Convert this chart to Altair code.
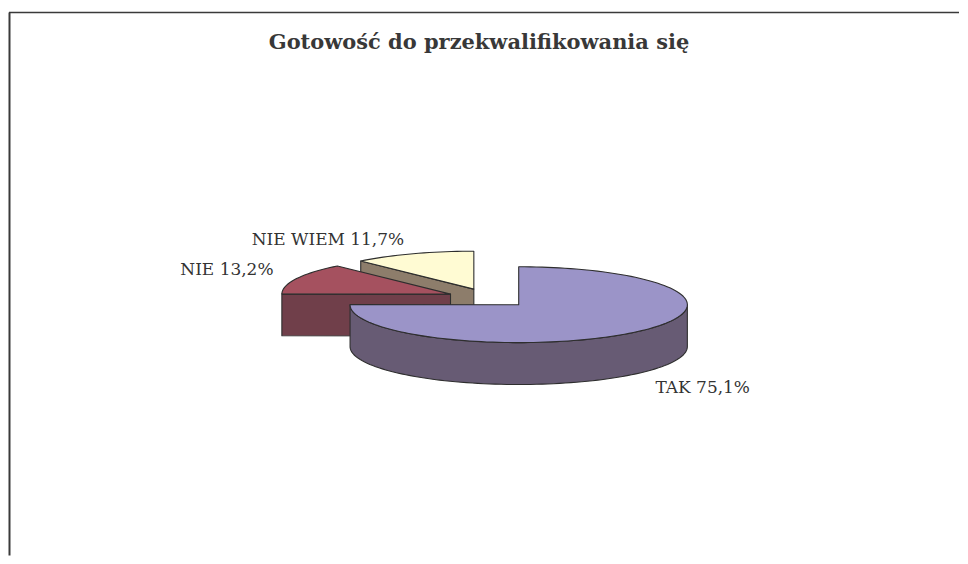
import math
import altair as alt
import pandas as pd

# ---- data ----
title_text = "Gotowość do przekwalifikowania się"
categories = ["TAK", "NIE", "NIE WIEM"]
values = [75.1, 13.2, 11.7]
top_colors = ["#9b94c8", "#a5515f", "#fffbd3"]
side_colors = ["#675b74", "#703f4a", "#8d7d6b"]

# ---- 3D pie styling (projection units: 1 = horizontal radius) ----
RX = 169.0               # px per unit (projection scale)
TILT = 38.0 / 169.0      # vertical squash of the ellipse
DEPTH = 42.0 / 169.0     # thickness of the pie
EXPLODE = 0.25
TRANSLATE = [481, 290]
KX, KY = 1.15, 1.25      # label distance factors


def pt(cx, cy, deg, z=0.0):
    t = math.radians(deg)
    return [cx + math.sin(t), cy + math.cos(t) * TILT - z]


def arc(cx, cy, a, b, z=0.0, step=2.0):
    n = max(2, int(math.ceil((b - a) / step)))
    return [pt(cx, cy, a + (b - a) * k / n, z) for k in range(n + 1)]


total = sum(values)
slices = []
start = 0.0
for cat, v, tc, sc in zip(categories, values, top_colors, side_colors):
    span = v / total * 360.0
    a, b = start, start + span
    m = math.radians((a + b) / 2)
    cx = EXPLODE * math.sin(m)
    cy = EXPLODE * math.cos(m) * TILT
    slices.append(dict(cat=cat, v=v, a=a, b=b, m=m, cx=cx, cy=cy, tc=tc, sc=sc))
    start = b

features = []


def add(ring, fill, cat):
    ring = ring + [ring[0]]
    features.append({
        "type": "Feature",
        "geometry": {"type": "Polygon", "coordinates": [ring]},
        "properties": {"fill": fill, "cat": cat},
    })


# painter's order: back slices first
for s in sorted(slices, key=lambda s: -s["cy"]):
    cx, cy, a, b = s["cx"], s["cy"], s["a"], s["b"]
    lo, hi = max(a, 90.0), min(b, 270.0)
    if lo < hi:
        add(arc(cx, cy, lo, hi) + arc(cx, cy, lo, hi, DEPTH)[::-1], s["sc"], s["cat"])
    if -math.sin(math.radians(a)) > 1e-6:
        add([[cx, cy], pt(cx, cy, a), pt(cx, cy, a, DEPTH), [cx, cy - DEPTH]], s["sc"], s["cat"])
    if math.sin(math.radians(b)) > 1e-6:
        add([[cx, cy], pt(cx, cy, b), pt(cx, cy, b, DEPTH), [cx, cy - DEPTH]], s["sc"], s["cat"])
    add([[cx, cy]] + arc(cx, cy, a, b), s["tc"], s["cat"])

rows = []
for s in slices:
    m = s["m"]
    lon = s["cx"] + KX * math.sin(m)
    lat = s["cy"] + KY * math.cos(m) * TILT - (DEPTH if math.cos(m) < 0 else 0.0)
    label = f"{s['cat']} {s['v']:.1f}%".replace(".", ",")
    rows.append({"lon": lon, "lat": lat, "label": label,
                 "side": "right" if math.sin(m) > 0 else "left"})
labels_df = pd.DataFrame(rows)

proj = dict(type="identity", scale=RX, translate=TRANSLATE, reflectY=True)

pie = alt.Chart(alt.Data(values=features)).mark_geoshape(
    stroke="#2e2e2e", strokeWidth=1.1, strokeJoin="round"
).encode(
    fill=alt.Fill("properties.fill:N", scale=None)
).project(**proj)

lab_right = alt.Chart(labels_df).transform_filter("datum.side == 'right'").mark_text(
    align="left", baseline="top", font="DejaVu Serif", fontSize=17, color="#333333"
).encode(longitude="lon:Q", latitude="lat:Q", text="label:N").project(**proj)

lab_left = alt.Chart(labels_df).transform_filter("datum.side == 'left'").mark_text(
    align="right", baseline="alphabetic", font="DejaVu Serif", fontSize=17, color="#333333"
).encode(longitude="lon:Q", latitude="lat:Q", text="label:N").project(**proj)

one = pd.DataFrame({"t": [title_text]})
title = alt.Chart(one).mark_text(
    align="center", baseline="alphabetic", font="DejaVu Serif", fontSize=21,
    fontWeight="bold", color="#383838"
).encode(x=alt.value(471), y=alt.value(41), text="t:N")

top_rule = alt.Chart(one).mark_rule(color="#3a3a3a", strokeWidth=1.5).encode(
    x=alt.value(0), x2=alt.value(952), y=alt.value(4))
left_rule = alt.Chart(one).mark_rule(color="#3a3a3a", strokeWidth=2).encode(
    x=alt.value(0.5), y=alt.value(4), y2=alt.value(548))

chart = alt.layer(top_rule, left_rule, pie, lab_right, lab_left, title).properties(
    width=952, height=548, padding=0, background="white"
).configure_view(stroke=None)

chart.save("out.html", embed_options={"renderer": "svg", "actions": False})
